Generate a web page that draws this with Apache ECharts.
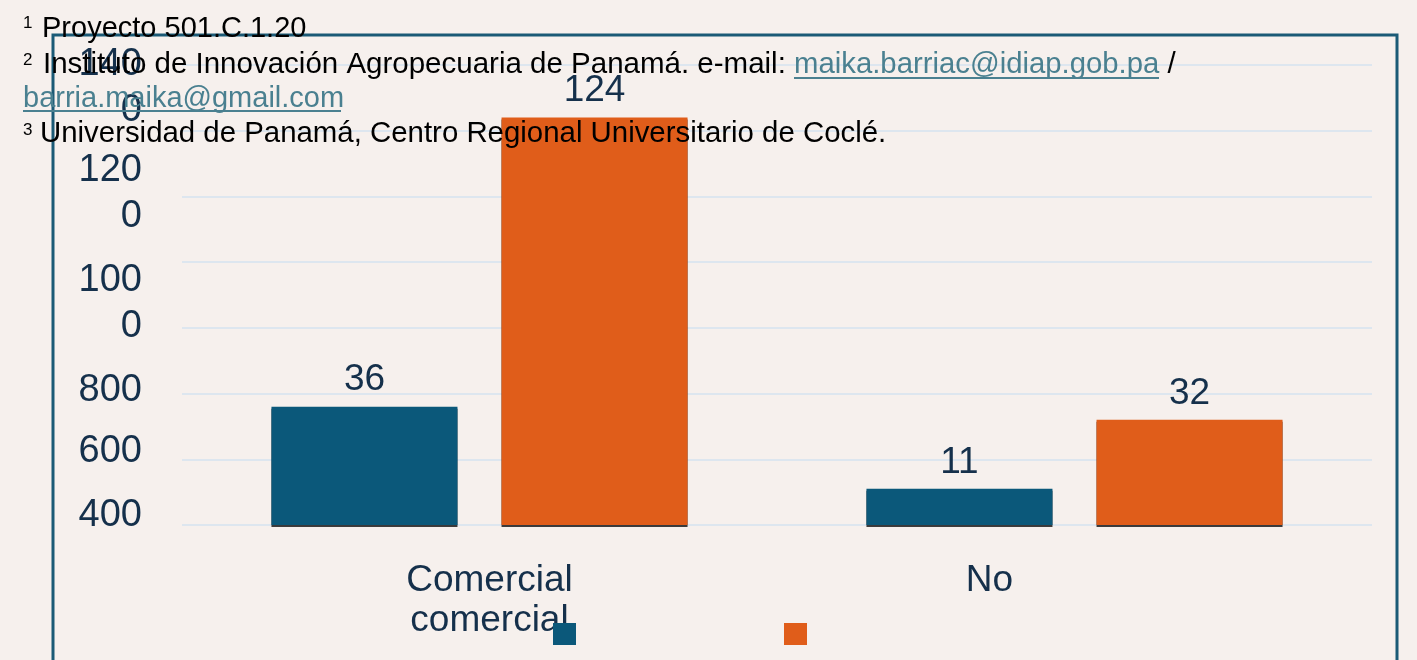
<!DOCTYPE html>
<html>
<head>
<meta charset="utf-8">
<script src="https://cdn.jsdelivr.net/npm/echarts@6/dist/echarts.min.js"></script>
<style>
  html, body { margin: 0; padding: 0; background: #f6f0ed; }
  #main { width: 1417px; height: 660px; }
</style>
</head>
<body>
<div id="main"></div>
<script>
// datos del gráfico
const categories = ['Comercial\ncomercial', 'No'];
const serie1 = [36, 11];
const serie2 = [124, 32];
// etiquetas del eje Y tal como aparecen (y donde caen en la escala)
const yTickLabels = ['400', '600', '800', '100\n0', '120\n0', '140\n0'];
const yTickAt = [2.8, 22.3, 40.9, 67.5, 100.8, 133];

const notaLinea1 = 'Proyecto 501.C.1.20';
const notaLinea2 = 'Instituto de Innovación Agropecuaria de Panamá. e-mail: ';
const correo1 = 'maika.barriac@idiap.gob.pa';
const correo2 = 'barria.maika@gmail.com';
const notaLinea3 = 'Universidad de Panamá, Centro Regional Universitario de Coclé.';

const txtColor = '#15304b';
const linkColor = '#4a8090';
const font = '"Liberation Sans", Arial, sans-serif';

let myChart
function draw(){
    let barShadow = { shadowColor: 'rgba(0,0,0,0.75)', shadowOffsetY: 2, shadowBlur: 0 };
    let option = {
        backgroundColor: '#f6f0ed',
        animation: false,
        textStyle: { fontFamily: font },
        grid: { left: 182, right: 45, top: 65, bottom: 135 },
        legend: {
            left: 548,
            top: 618,
            icon: 'rect',
            itemWidth: 23,
            itemHeight: 22,
            itemGap: 208,
            formatter: function(){ return ''; },
            data: ['Serie 1', 'Serie 2']
        },
        xAxis: {
            type: 'category',
            data: categories,
            axisLine: { show: false },
            axisTick: { show: false },
            axisLabel: {
                margin: 36,
                fontSize: 37,
                lineHeight: 40,
                color: txtColor,
                formatter: function(v){
                    if (v === 'No') return '{no|No}';
                    return v.split('\n').map(function(s){ return '{c|' + s + '}'; }).join('\n');
                },
                rich: {
                    c: { fontSize: 37, lineHeight: 40, color: txtColor, padding: [0, 0, 0, 20] },
                    no: { fontSize: 37, lineHeight: 40, color: txtColor, padding: [0, 170, 0, 0] }
                }
            }
        },
        yAxis: {
            type: 'value',
            min: 0,
            max: 140,
            interval: 20,
            axisLine: { show: false },
            axisTick: { show: false },
            splitLine: { lineStyle: { color: '#d5e3ef', width: 1.5 } },
            axisLabel: {
                customValues: yTickAt,
                margin: 40,
                fontSize: 38,
                lineHeight: 46,
                color: txtColor,
                formatter: function(v){
                    let i = yTickAt.indexOf(v);
                    return i >= 0 ? yTickLabels[i] : '';
                }
            }
        },
        series: [
            {
                name: 'Serie 1',
                type: 'bar',
                data: serie1,
                barWidth: 186,
                barGap: '23.7%',
                itemStyle: Object.assign({ color: '#0b587a' }, barShadow),
                label: { show: true, position: 'top', distance: 8, fontSize: 37, color: txtColor }
            },
            {
                name: 'Serie 2',
                type: 'bar',
                data: serie2,
                barWidth: 186,
                itemStyle: Object.assign({ color: '#e05d1a' }, barShadow),
                label: { show: true, position: 'top', distance: 8, fontSize: 37, color: txtColor }
            }
        ],
        graphic: [
            // marco
            { type: 'rect', z: 1, shape: { x: 53, y: 35, width: 1344, height: 700 },
              style: { fill: null, stroke: '#1b5a76', lineWidth: 3 } },
            // notas al pie
            { type: 'text', z: 100, x: 23, y: 23, style: { text: '1', font: '17px ' + font, fill: '#000', verticalAlign: 'middle' } },
            { type: 'text', z: 100, x: 42, y: 29, style: { text: notaLinea1, font: '29px ' + font, fill: '#000', verticalAlign: 'middle' } },
            { type: 'text', z: 100, x: 23, y: 60, style: { text: '2', font: '17px ' + font, fill: '#000', verticalAlign: 'middle' } },
            { type: 'text', z: 100, x: 43, y: 65, style: {
                text: '{t|' + notaLinea2 + '}{l|' + correo1 + '}{t| /}',
                verticalAlign: 'middle',
                rich: {
                    t: { font: '29.5px ' + font, fill: '#000' },
                    l: { font: '29.3px ' + font, fill: linkColor }
                }
            } },
            { type: 'line', z: 100, shape: { x1: 794, y1: 78, x2: 1159, y2: 78 }, style: { stroke: linkColor, lineWidth: 2 } },
            { type: 'text', z: 100, x: 23, y: 99, style: { text: correo2, font: '29px ' + font, fill: linkColor, verticalAlign: 'middle' } },
            { type: 'line', z: 100, shape: { x1: 23, y1: 111, x2: 341, y2: 111 }, style: { stroke: linkColor, lineWidth: 2 } },
            { type: 'text', z: 100, x: 23, y: 130, style: { text: '3', font: '17px ' + font, fill: '#000', verticalAlign: 'middle' } },
            { type: 'text', z: 100, x: 40, y: 134, style: { text: notaLinea3, font: '29.4px ' + font, fill: '#000', verticalAlign: 'middle' } }
        ]
    };

    myChart = echarts.init(document.getElementById("main"));
    myChart.setOption(option);

    window.addEventListener('resize',function(){
        myChart.resize();
    },false)
}

draw()
</script>
</body>
</html>
